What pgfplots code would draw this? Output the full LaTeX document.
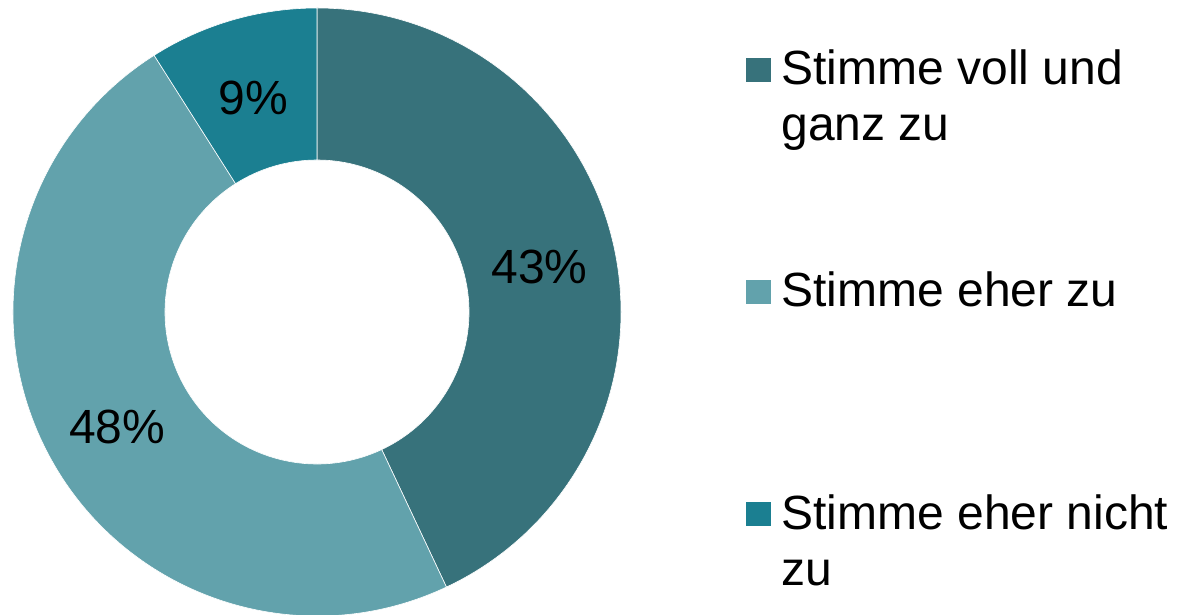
\documentclass[border=0pt]{standalone}
\usepackage{fontspec}
\setmainfont{Liberation Sans}
\usepackage{pgfplots}
\pgfplotsset{compat=1.18}
\definecolor{cA}{HTML}{37727B}
\definecolor{cB}{HTML}{62A2AC}
\definecolor{cC}{HTML}{1B7F91}
% data (percent)
\def\vA{43}\def\vB{48}\def\vC{9}
% geometry in axis units (1 unit = 0.5pt)
\def\cx{317}\def\cy{303}
\def\Ro{304}\def\Ri{152}\def\Rl{228}
\pgfmathsetmacro\aA{90}
\pgfmathsetmacro\aB{\aA-3.6*\vA}
\pgfmathsetmacro\aC{\aB-3.6*\vB}
\pgfmathsetmacro\aD{\aC-3.6*\vC}
\pgfmathsetmacro\mA{(\aA+\aB)/2}
\pgfmathsetmacro\mB{(\aB+\aC)/2}
\pgfmathsetmacro\mC{(\aC+\aD)/2}
\newcommand{\ring}[3]{%
  \fill[#1, draw=white, line width=0.3pt]
    (axis cs:{\cx+\Ro*cos(#2)},{\cy+\Ro*sin(#2)})
    arc[start angle=#2, end angle=#3, radius=152pt]
    -- (axis cs:{\cx+\Ri*cos(#3)},{\cy+\Ri*sin(#3)})
    arc[start angle=#3, end angle=#2, radius=76pt] -- cycle;}
\tikzset{lbl/.style={font=\fontsize{24}{28}\selectfont, inner sep=0pt}}
\begin{document}
\begin{tikzpicture}
\begin{axis}[
  scale only axis, width=589pt, height=307.5pt,
  xmin=0, xmax=1178, ymin=0, ymax=615,
  hide axis, clip=false,
]
\ring{cA}{\aA}{\aB}
\ring{cB}{\aB}{\aC}
\ring{cC}{\aC}{\aD}
\node[lbl] at (axis cs:{\cx+\Rl*cos(\mA)},{\cy+\Rl*sin(\mA)-5}) {\vA\%};
\node[lbl] at (axis cs:{\cx+\Rl*cos(\mB)},{\cy+\Rl*sin(\mB)-5}) {\vB\%};
\node[lbl] at (axis cs:{\cx+\Rl*cos(\mC)},{\cy+\Rl*sin(\mC)-5}) {\vC\%};
% legend
\fill[cA] (axis cs:746,557) rectangle (axis cs:771,533);
\fill[cB] (axis cs:746,335) rectangle (axis cs:771,311);
\fill[cC] (axis cs:746,113) rectangle (axis cs:771,89);
\node[lbl, anchor=base west] at (axis cs:781,530.7) {Stimme voll und};
\node[lbl, anchor=base west] at (axis cs:781,474.7) {ganz zu};
\node[lbl, anchor=base west] at (axis cs:781,308.3) {Stimme eher zu};
\node[lbl, anchor=base west] at (axis cs:781,85) {Stimme eher nicht};
\node[lbl, anchor=base west] at (axis cs:781,29) {zu};
\end{axis}
\pgfresetboundingbox
\path[use as bounding box] (current axis.south west) rectangle (current axis.north east);
\end{tikzpicture}
\end{document}
